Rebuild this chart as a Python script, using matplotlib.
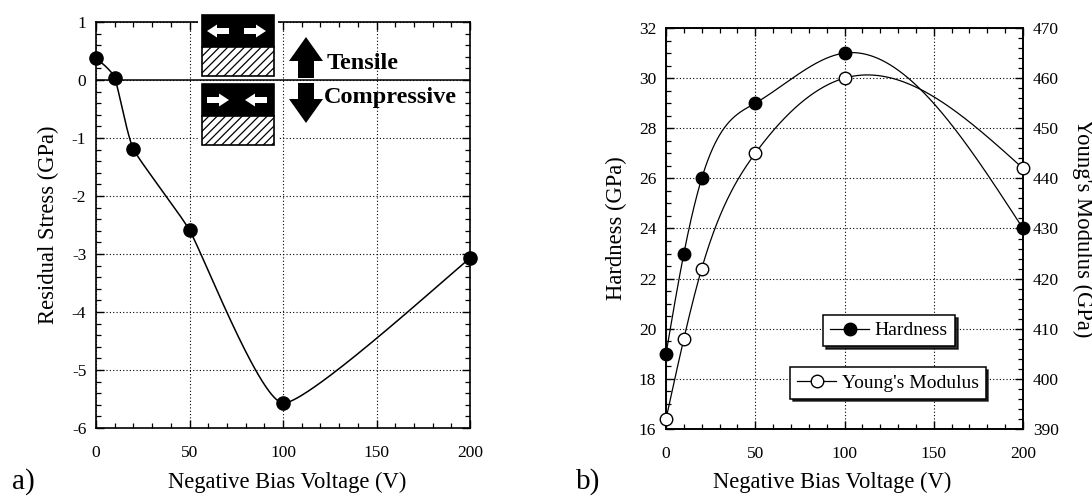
import numpy as np
import matplotlib
matplotlib.use("Agg")
import matplotlib.pyplot as plt
from matplotlib.ticker import MultipleLocator
from matplotlib.patches import Rectangle, FancyArrow
from matplotlib.lines import Line2D

plt.rcParams['font.family'] = ['Liberation Serif', 'DejaVu Serif']
plt.rcParams['hatch.linewidth'] = 0.9

# ---------------- data ----------------
bias_a = [0, 10, 20, 50, 100, 200]
stress = [0.38, 0.04, -1.19, -2.59, -5.57, -3.07]

bias_b = [0, 10, 20, 50, 100, 200]
hardness = [19, 23, 26, 29, 31, 24]
youngs = [392, 408, 422, 445, 460, 442]

xticks = [0, 50, 100, 150, 200]
yticks_a = [1, 0, -1, -2, -3, -4, -5, -6]
yticks_h = [16, 18, 20, 22, 24, 26, 28, 30, 32]
yticks_e = [390, 400, 410, 420, 430, 440, 450, 460, 470]


def natural_spline(x, y, xs):
    x = np.asarray(x, float); y = np.asarray(y, float)
    n = len(x); h = np.diff(x)
    A = np.zeros((n, n)); r = np.zeros(n)
    A[0, 0] = 1; A[-1, -1] = 1
    for i in range(1, n - 1):
        A[i, i - 1] = h[i - 1]; A[i, i] = 2 * (h[i - 1] + h[i]); A[i, i + 1] = h[i]
        r[i] = 3 * ((y[i + 1] - y[i]) / h[i] - (y[i] - y[i - 1]) / h[i - 1])
    c = np.linalg.solve(A, r)
    b = (y[1:] - y[:-1]) / h - h * (2 * c[:-1] + c[1:]) / 3
    d = (c[1:] - c[:-1]) / (3 * h)
    idx = np.clip(np.searchsorted(x, xs) - 1, 0, n - 2)
    dx = xs - x[idx]
    return y[idx] + b[idx] * dx + c[idx] * dx ** 2 + d[idx] * dx ** 3


def cardinal_curve(ax, x, y, tension=0.5, n=80):
    """Parametric cardinal spline computed in display space of the axes."""
    P = ax.transData.transform(np.column_stack([x, y]))
    E = np.vstack([P[0], P, P[-1]])
    s = (1 - tension) / 2
    t = np.linspace(0, 1, n)[:, None]
    h00 = 2 * t ** 3 - 3 * t ** 2 + 1; h10 = t ** 3 - 2 * t ** 2 + t
    h01 = -2 * t ** 3 + 3 * t ** 2; h11 = t ** 3 - t ** 2
    segs = []
    for i in range(len(P) - 1):
        p0, p1, p2, p3 = E[i], E[i + 1], E[i + 2], E[i + 3]
        m1 = s * (p2 - p0); m2 = s * (p3 - p1)
        segs.append(h00 * p1 + h10 * m1 + h01 * p2 + h11 * m2)
    pts = ax.transData.inverted().transform(np.vstack(segs))
    return pts[:, 0], pts[:, 1]


W, H = 1092, 498
fig = plt.figure(figsize=(W / 100, H / 100), dpi=100)

TICK_FS = 12.5
LAB_FS = 16.3


def style_axes(ax, xpad=12, ypad=7):
    ax.tick_params(which='both', direction='in', labelsize=TICK_FS)
    ax.tick_params(which='major', length=6, width=1.0)
    ax.tick_params(which='minor', length=3.5, width=0.9)
    ax.tick_params(axis='x', pad=xpad)
    ax.tick_params(axis='y', pad=ypad)
    for s in ax.spines.values():
        s.set_linewidth(1.2)


# ---------------- panel a ----------------
axa = fig.add_axes([96 / W, 1 - 428 / H, (470 - 96) / W, (428 - 22) / H])
axa.set_xlim(0, 200); axa.set_ylim(-6, 1)
cx, cy = cardinal_curve(axa, bias_a, stress, tension=0.5)
axa.plot(cx, cy, color='black', lw=1.1, zorder=3)
axa.plot(bias_a, stress, 'o', color='black', ms=9.5, zorder=4, clip_on=False)
axa.axhline(0, color='black', lw=1.1, zorder=2)
axa.set_xticks(xticks); axa.set_yticks(yticks_a)
axa.set_yticklabels([str(v) for v in yticks_a])
axa.xaxis.set_minor_locator(MultipleLocator(10))
axa.yaxis.set_minor_locator(MultipleLocator(0.2))
axa.grid(True, which='major', linestyle=(0, (1, 2)), color='black', lw=0.8)
axa.tick_params(which='both', top=True, right=True)
style_axes(axa)
axa.set_xlabel('Negative Bias Voltage (V)', fontsize=LAB_FS)
axa.set_ylabel('Residual Stress (GPa)', fontsize=LAB_FS)
axa.xaxis.set_label_coords((287 - 96) / 374, (428 - 482) / 406)
axa.xaxis.label.set_va('center')
axa.yaxis.set_label_coords((48 - 96) / 374, 0.5)
axa.yaxis.label.set_va('center')

# ---------------- panel b ----------------
axb = fig.add_axes([666 / W, 1 - 429 / H, (1023 - 666) / W, (429 - 28) / H])
axe = axb.twinx()
xs = np.linspace(0, 200, 600)
axb.plot(xs, natural_spline(bias_b, hardness, xs), color='black', lw=0.9, zorder=3)
axb.plot(bias_b, hardness, 'o', color='black', ms=9, zorder=4, clip_on=False)
axe.plot(xs, natural_spline(bias_b, youngs, xs), color='black', lw=0.9, zorder=3)
axe.plot(bias_b, youngs, 'o', mfc='white', mec='black', mew=1.0, ms=9,
         zorder=4, clip_on=False)
axb.set_xlim(0, 200); axb.set_ylim(16, 32)
axe.set_ylim(390, 470)
axb.set_xticks(xticks); axb.set_yticks(yticks_h); axe.set_yticks(yticks_e)
axb.xaxis.set_minor_locator(MultipleLocator(10))
axb.yaxis.set_minor_locator(MultipleLocator(0.5))
axe.yaxis.set_minor_locator(MultipleLocator(2))
axb.grid(True, which='major', linestyle=(0, (1, 2)), color='black', lw=0.8)
axb.tick_params(which='both', top=True, right=False)
style_axes(axb)
style_axes(axe, ypad=7)
axb.set_xlabel('Negative Bias Voltage (V)', fontsize=LAB_FS)
axb.set_ylabel('Hardness (GPa)', fontsize=LAB_FS)
axe.set_ylabel("Young's Modulus (GPa)", fontsize=LAB_FS, rotation=270)
axb.xaxis.set_label_coords((832 - 666) / 357, (429 - 482) / 401)
axb.xaxis.label.set_va('center')
axb.yaxis.set_label_coords((616 - 666) / 357, 0.5)
axb.yaxis.label.set_va('center')
axe.yaxis.set_label_coords((1083 - 666) / 357, 0.5)
axe.yaxis.label.set_va('center')

h_handle = Line2D([], [], color='black', lw=0.9, marker='o', ms=9, mfc='black', mec='black')
e_handle = Line2D([], [], color='black', lw=0.9, marker='o', ms=9, mfc='white', mec='black')
shadow = {'color': 'black', 'alpha': 0.8, 'ox': 2, 'oy': -2}
leg1 = axe.legend([h_handle], ['Hardness'], loc='center',
                  bbox_to_anchor=(889 / W, 1 - 330.5 / H), bbox_transform=fig.transFigure,
                  fontsize=14, frameon=True, fancybox=False, shadow=shadow,
                  handlelength=2.0, handletextpad=0.3, borderpad=0.35, borderaxespad=0)
leg1.get_frame().set_edgecolor('black'); leg1.get_frame().set_linewidth(1.1)
leg1.get_frame().set_alpha(1)
axe.add_artist(leg1)
leg2 = axe.legend([e_handle], ["Young's Modulus"], loc='center',
                  bbox_to_anchor=(888 / W, 1 - 383 / H), bbox_transform=fig.transFigure,
                  fontsize=14, frameon=True, fancybox=False, shadow=shadow,
                  handlelength=2.0, handletextpad=0.3, borderpad=0.35, borderaxespad=0)
leg2.get_frame().set_edgecolor('black'); leg2.get_frame().set_linewidth(1.1)
leg2.get_frame().set_alpha(1)

# ---------------- panel letters ----------------
fig.text(12 / W, 1 - 482 / H, 'a)', fontsize=21, ha='left', va='center')
fig.text(576 / W, 1 - 482 / H, 'b)', fontsize=21, ha='left', va='center')

# ---------------- stress illustration (pixel overlay) ----------------
ov = fig.add_axes([0, 0, 1, 1], zorder=10)
ov.set_xlim(0, W); ov.set_ylim(H, 0); ov.axis('off')

for (y0, y1) in [(11, 79), (82, 149)]:
    ov.add_patch(Rectangle((198, y0), 80, y1 - y0, facecolor='white', edgecolor='none'))


def white_arrow(x0, y0, dx):
    ov.add_patch(FancyArrow(x0, y0, dx, 0, width=6, head_width=13, head_length=10,
                            length_includes_head=True, color='white', lw=0))


def film_box(ytop, tensile):
    ov.add_patch(Rectangle((202, ytop), 72, 32, facecolor='black', edgecolor='black', lw=1.2))
    ov.add_patch(Rectangle((202, ytop + 32), 72, 29, facecolor='white', edgecolor='black',
                           lw=1.2, hatch='////'))
    yc = ytop + 16
    if tensile:
        white_arrow(229, yc, -22)
        white_arrow(244, yc, 22)
    else:
        white_arrow(207, yc, 22)
        white_arrow(267, yc, -22)


film_box(15, True)
film_box(84, False)

ov.add_patch(FancyArrow(306, 78, 0, -41, width=16, head_width=34, head_length=24,
                        length_includes_head=True, color='black', lw=0))
ov.add_patch(FancyArrow(306, 83, 0, 40, width=16, head_width=34, head_length=24,
                        length_includes_head=True, color='black', lw=0))
ov.text(327, 63, 'Tensile', fontsize=17.5, fontweight='bold', ha='left', va='center')
ov.text(324, 97, 'Compressive', fontsize=17.5, fontweight='bold', ha='left', va='center')

fig.savefig('out.png', dpi=100)
